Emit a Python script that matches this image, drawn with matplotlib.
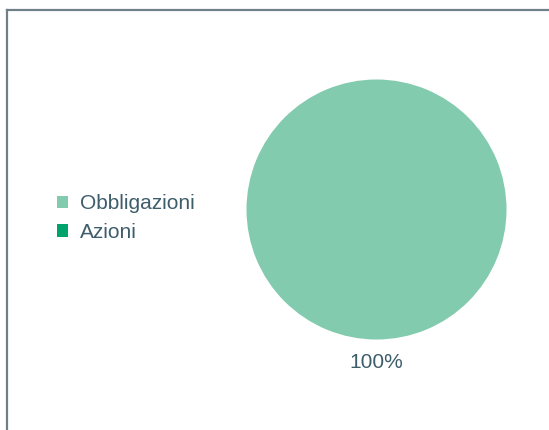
import matplotlib

matplotlib.use("Agg")
import matplotlib.pyplot as plt
from matplotlib.lines import Line2D

plt.rcParams["font.family"] = ["Liberation Sans", "DejaVu Sans"]

labels = ["Obbligazioni", "Azioni"]
values = [100, 0]
colors = ["#82cbae", "#00a36c"]

TEXT = "#3e5d6b"
W, H = 549, 430

fig = plt.figure(figsize=(W / 100, H / 100), dpi=100)

# frame: top and left rules only
fig.add_artist(Line2D([7 / W, 1], [1 - 10 / H, 1 - 10 / H], color="#6f8089", lw=1.6))
fig.add_artist(Line2D([7 / W, 7 / W], [0, 1 - 10 / H], color="#6f8089", lw=1.6))

r = 130
cx, cy = 376.5, 209.5
ax = fig.add_axes([(cx - r) / W, (H - cy - r) / H, 2 * r / W, 2 * r / H])


def fmt(p):
    return f"{p:.0f}%" if p > 0 else ""


wedges, _, autotexts = ax.pie(values, colors=colors, startangle=90,
                              counterclock=False, autopct=fmt,
                              pctdistance=1.175, radius=1.0,
                              textprops={"color": TEXT, "fontsize": 15})
ax.set_aspect("equal")
ax.set_xlim(-1, 1)
ax.set_ylim(-1, 1)

fig.legend(wedges, labels, loc="center left",
           bbox_to_anchor=(57 / W, 1 - 218 / H), frameon=False,
           fontsize=15, labelcolor=TEXT, handlelength=0.55,
           handleheight=0.55, handletextpad=0.55, labelspacing=0.45,
           borderaxespad=0, borderpad=0)

fig.savefig("out.png", dpi=100)
